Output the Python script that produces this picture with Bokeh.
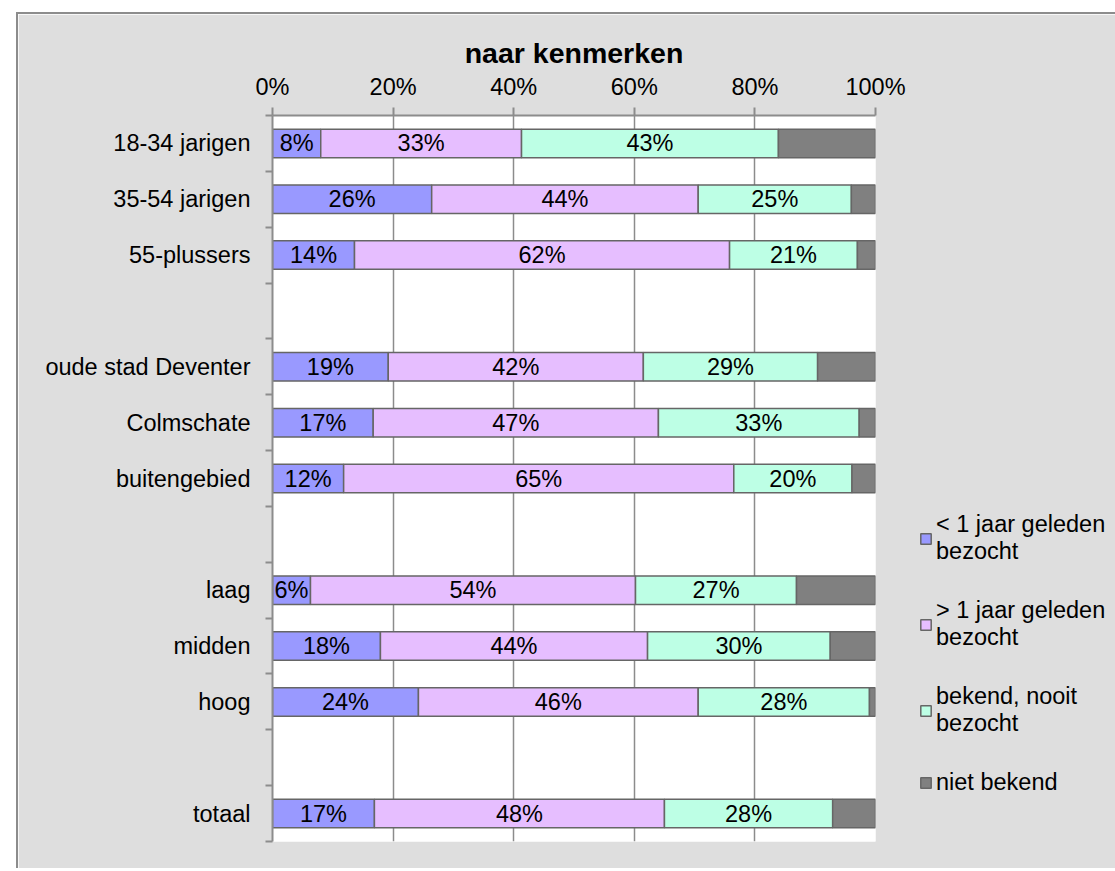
from bokeh.plotting import figure
from bokeh.models import ColumnDataSource, FixedTicker, Legend, LegendItem
from bokeh.embed import file_html
from bokeh.resources import INLINE
from bokeh.core.properties import value

title_text = "naar kenmerken"
categories = ["18-34 jarigen", "35-54 jarigen", "55-plussers",
              "oude stad Deventer", "Colmschate", "buitengebied",
              "laag", "midden", "hoog", "totaal"]
groups = [0, 0, 0, 1, 1, 1, 2, 2, 2, 3]
series = ["< 1 jaar geleden\nbezocht", "> 1 jaar geleden\nbezocht",
          "bekend, nooit\nbezocht", "niet bekend"]
recent = [8.0, 26.4, 13.6, 19.2, 16.7, 11.8, 6.3, 17.9, 24.2, 16.9]
older = [33.3, 44.2, 62.2, 42.3, 47.3, 64.7, 53.9, 44.3, 46.4, 48.1]
never = [42.6, 25.4, 21.2, 28.9, 33.3, 19.6, 26.7, 30.3, 28.4, 27.9]
unknown = [16.1, 4.0, 3.0, 9.6, 2.7, 3.9, 13.1, 7.5, 1.0, 7.1]
x_ticks = [0, 20, 40, 60, 80, 100]
x_tick_labels = ["0%", "20%", "40%", "60%", "80%", "100%"]
colors = ["#9999FF", "#E6BEFF", "#BDFFE5", "#808080"]

FONT = "Liberation Sans"
FS = "23.5px"
n_slots = len(categories) + groups[-1]
ys = [n_slots - 1 - (i + g) for i, g in enumerate(groups)]

src = ColumnDataSource(dict(y=ys, recent=recent, older=older, never=never,
                            unknown=unknown, cat=categories))

p = figure(frame_width=603, frame_height=726, output_backend="svg", toolbar_location=None,
           x_range=(0, 100), y_range=(-0.5, n_slots - 0.5),
           x_axis_location="above",
           min_border_left=254, min_border_right=232,
           min_border_top=101, min_border_bottom=27)
p.margin = (12, 0, 0, 16)
p.styles = {"border-left": "2px solid #8c8c8c", "border-top": "2px solid #8c8c8c"}
p.background_fill_color = "white"
p.border_fill_color = "#DEDEDE"
p.outline_line_color = None

p.title.text = title_text
p.title.align = "center"
p.title.text_font = FONT
p.title.text_font_size = "28.5px"
p.title.text_font_style = "bold"
p.title.text_color = "black"
p.title.standoff = 3

stack_keys = ["recent", "older", "never", "unknown"]
rends = p.hbar_stack(stack_keys, y="y", height=0.51, color=colors,
                     line_color="#666666", line_width=1.5, source=src)

# labels
lx, ly, lt = [], [], []
for k in range(3):
    arrs = [recent, older, never][: k + 1]
    for i in range(len(categories)):
        left = sum(a[i] for a in arrs[:-1])
        v = arrs[-1][i]
        lx.append(left + v / 2)
        ly.append(ys[i])
        lt.append(f"{v:.0f}%")
p.text(x=lx, y=ly, text=lt, text_align="center", text_baseline="middle",
       text_font=value(FONT), text_font_size=FS, text_color="black")

# x axis (top)
xa = p.xaxis[0]
xa.ticker = FixedTicker(ticks=x_ticks)
xa.major_label_overrides = {t: l for t, l in zip(x_ticks, x_tick_labels)}
xa.major_label_text_font = FONT
xa.major_label_text_font_size = FS
xa.major_label_text_color = "black"
xa.major_label_standoff = 8
xa.axis_line_color = "#8c8c8c"
xa.axis_line_width = 2
xa.major_tick_line_color = "#8c8c8c"
xa.major_tick_line_width = 2
xa.major_tick_out = 8
xa.major_tick_in = 0
xa.minor_tick_line_color = None

# y axis (left)
ya = p.yaxis[0]
ya.ticker = FixedTicker(ticks=ys, minor_ticks=[k + 0.5 for k in range(-1, n_slots)])
ya.major_label_overrides = {y: c for y, c in zip(ys, categories)}
ya.major_label_text_font = FONT
ya.major_label_text_font_size = FS
ya.major_label_text_color = "black"
ya.major_label_standoff = 15
ya.axis_line_color = "#8c8c8c"
ya.axis_line_width = 2
ya.major_tick_out = 0
ya.major_tick_in = 0
ya.minor_tick_line_color = "#8c8c8c"
ya.minor_tick_line_width = 2
ya.minor_tick_out = 7
ya.minor_tick_in = 0

p.xgrid.ticker = FixedTicker(ticks=x_ticks)
p.xgrid.grid_line_color = "#8c8c8c"
p.xgrid.grid_line_width = 1.5
p.ygrid.grid_line_color = None

legend = Legend(items=[LegendItem(label=s, renderers=[r]) for s, r in zip(series, rends)],
                location=(44, 45))
legend.label_text_font = FONT
legend.label_text_font_size = FS
legend.label_text_color = "black"
legend.glyph_width = 13
legend.glyph_height = 13
legend.spacing = 32
legend.padding = 0
legend.margin = 0
legend.label_standoff = 4
legend.background_fill_alpha = 0
legend.border_line_color = None
p.add_layout(legend, "right")

open("out.html", "w").write(file_html(p, INLINE))
